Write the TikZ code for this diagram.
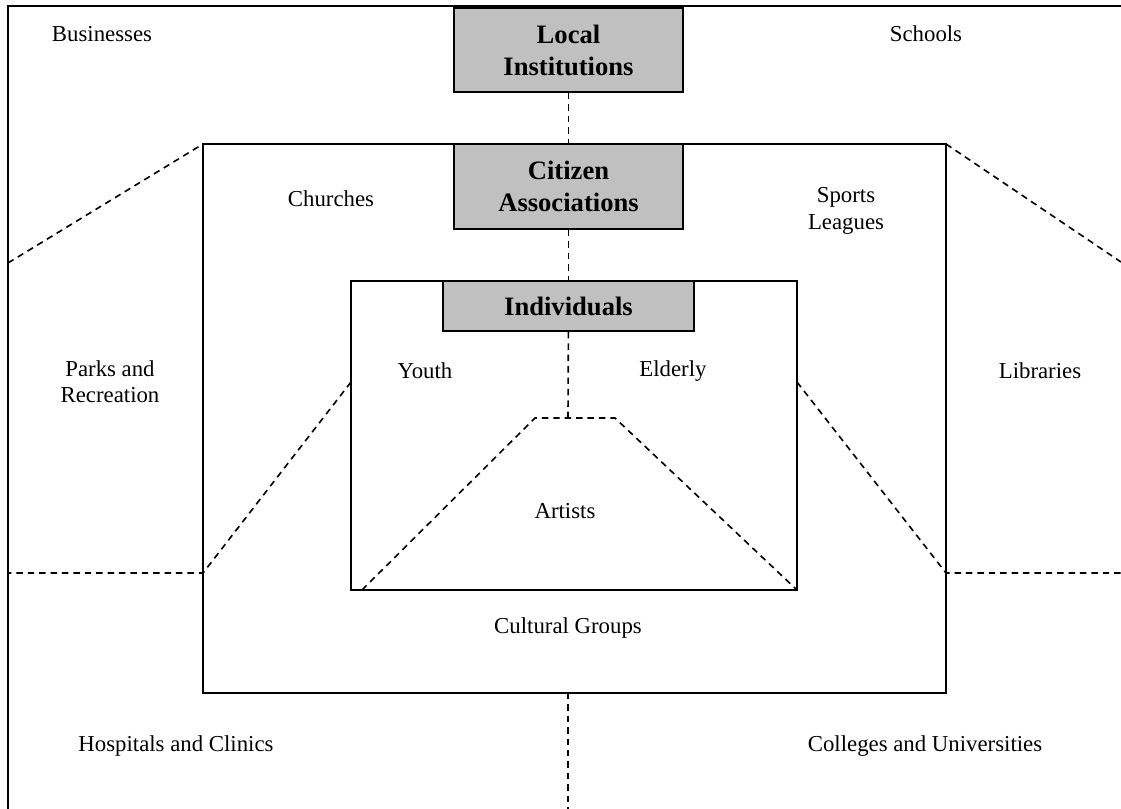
\documentclass[tikz,border=0pt]{standalone}
\usepackage{fontspec}
\setmainfont{Liberation Serif}
\definecolor{boxgray}{RGB}{192,192,192}

\begin{document}
\begin{tikzpicture}[x=0.5263pt,y=-0.5263pt,
  every node/.style={font=\fontsize{12}{13.8}\selectfont, align=center},
  head/.style={draw, line width=1pt, fill=boxgray, inner sep=0pt, font=\fontsize{14}{16.8}\selectfont\bfseries},
  link/.style={dash pattern=on 3.4pt off 2.6pt, line width=0.85pt},
  frame/.style={line width=0.75pt}]
 \useasboundingbox (0,0) rectangle (1121,809);

 % corners and free ends
 \coordinate (top-r) at (1121,6);
 \coordinate (top-l) at (8,6);
 \coordinate (bot-l) at (8,809);
 \coordinate (mid-nw) at (203,144);
 \coordinate (mid-ne) at (946,144);
 \coordinate (mid-se) at (946,693);
 \coordinate (mid-sw) at (203,693);
 \coordinate (mid-w) at (203,573);
 \coordinate (mid-e) at (946,573);
 \coordinate (in-nw) at (351,281);
 \coordinate (in-se) at (797,590);
 \coordinate (in-w) at (351,382);
 \coordinate (in-e) at (797,382);
 \coordinate (tr-l) at (535,418);
 \coordinate (tr-r) at (615,418);
 \coordinate (tr-top) at (568,418);
 \coordinate (tr-bl) at (362,590);
 \coordinate (tr-br) at (797,590);
 \coordinate (edge-l) at (8,263);
 \coordinate (edge-r) at (1121,262);
 \coordinate (edge-lm) at (8,573);
 \coordinate (edge-rm) at (1121,573);
 \coordinate (mid-s) at (568,693);
 \coordinate (edge-b) at (568,809);

 % frames
 \draw[line width=1pt] (top-r) -- (top-l) -- (bot-l);
 \draw[frame] (mid-nw) rectangle (mid-se);
 \draw[frame] (in-nw) rectangle (in-se);

 % boxes
 \draw (568.5,50) node[head, minimum width=120.5pt, minimum height=44.2pt] (local) {Local\\Institutions};
 \draw (568.5,186.5) node[head, minimum width=120.5pt, minimum height=44.7pt] (citizen) {Citizen\\Associations};
 \draw (568.5,306) node[head, minimum width=132.1pt, minimum height=26.3pt] (indiv) {Individuals};

 % labels
 \draw (102,34) node (businesses) {Businesses};
 \draw (926,34) node (schools) {Schools};
 \draw (331,199) node (churches) {Churches};
 \draw (846,211) node (sports) {Sports\\Leagues};
 \draw (110,382) node (parks) {Parks and\\Recreation};
 \draw (1040,371) node (libraries) {Libraries};
 \draw (425,371) node (youth) {Youth};
 \draw (673,371) node (elderly) {Elderly};
 \draw (565,511) node (artists) {Artists};
 \draw (568,628) node (cultural) {Cultural Groups};
 \draw (176,746) node (hospitals) {Hospitals and Clinics};
 \draw (925,746) node (colleges) {Colleges and Universities};

 % dashed links
 \draw[link] (local) -- (citizen);
 \draw[link] (citizen) -- (indiv);
 \draw[link] (indiv) -- (tr-top);
 \draw[link] (tr-bl) -- (tr-l) -- (tr-r) -- (tr-br);
 \draw[link] (edge-l) -- (mid-nw);
 \draw[link] (mid-ne) -- (edge-r);
 \draw[link] (in-w) -- (mid-w) -- (edge-lm);
 \draw[link] (in-e) -- (mid-e) -- (edge-rm);
 \draw[link] (mid-s) -- (edge-b);
\end{tikzpicture}
\end{document}
